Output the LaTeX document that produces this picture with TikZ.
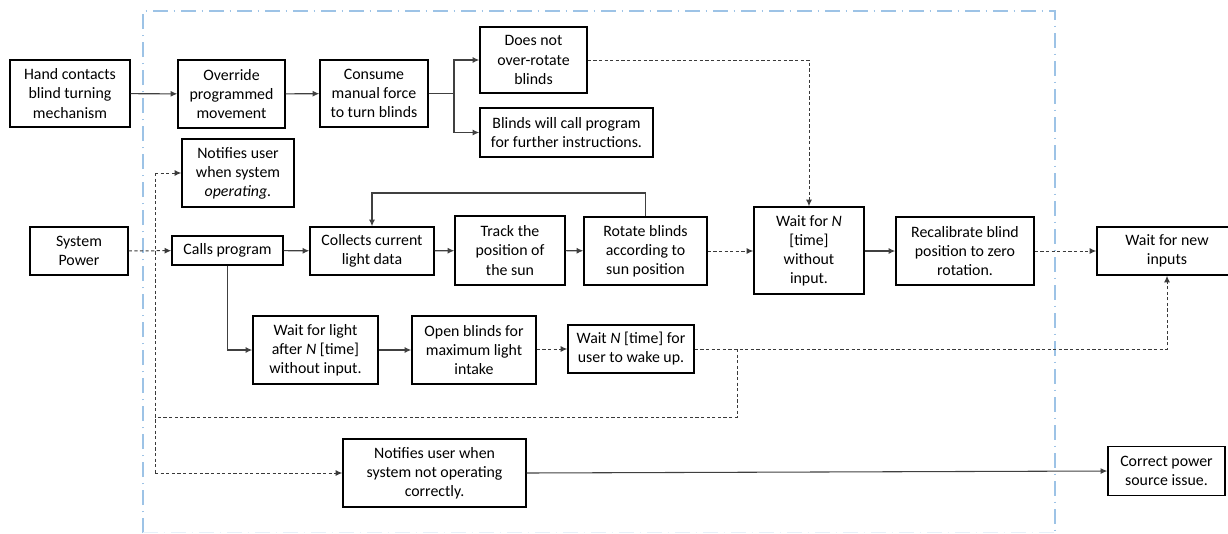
\documentclass[tikz,border=0pt]{standalone}
\usepackage{fontspec}
\setmainfont{Carlito}
\usetikzlibrary{arrows.meta}
\definecolor{bnd}{HTML}{9DC3E6}
\definecolor{ln}{HTML}{404040}
\definecolor{dln}{HTML}{3A3A3A}
\begin{document}
\begin{tikzpicture}[x=0.75pt,y=-0.75pt,
  box/.style={draw=black,line width=1.1pt,align=center,inner sep=0pt,font=\fontsize{11.9}{14.3}\selectfont},
  sz/.style 2 args={minimum width=#1*0.75pt,minimum height=#2*0.75pt},
  conn/.style={draw=ln,line width=0.8pt,-{Latex[length=5pt,width=4.5pt]}},
  plain/.style={draw=ln,line width=0.8pt},
  dsh/.style={draw=dln,line width=0.75pt,dash pattern=on 2.4pt off 1.8pt}]
\useasboundingbox (0,0) rectangle (1228,533);
% boundary
\draw[bnd,line width=1.1pt,dash pattern=on 11pt off 4.5pt on 1pt off 4.5pt] (143,533) -- (143,11) -- (1055,11) -- (1055,533);
\draw[bnd!25,line width=0.5pt,dash pattern=on 11pt off 4.5pt on 1pt off 4.5pt] (143,532.7) -- (1055,532.7);
% boxes
\node[box,sz={120}{67}] (hand) at (70,93.5) {Hand contacts\\blind turning\\mechanism};
\node[box,sz={107}{68}] (override) at (231.5,94) {Override\\programmed\\movement};
\node[box,sz={108}{67}] (consume) at (374,93.5) {Consume\\manual force\\to turn blinds};
\node[box,sz={107}{66}] (norot) at (533.5,60) {Does not\\over-rotate\\blinds};
\node[box,sz={173}{49}] (callback) at (566.5,132.5) {Blinds will call program\\for further instructions.};
\node[box,sz={112}{68}] (notifyop) at (238,173) {Notifies user\\when system\\\textit{operating.}};
\node[box,sz={98}{48}] (power) at (79,251) {System\\Power};
\node[box,sz={111}{29}] (calls) at (227.5,250.5) {Calls program};
\node[box,sz={124}{48}] (collects) at (372,251) {Collects current\\light data};
\node[box,sz={110}{69}] (track) at (510,250.5) {Track the\\position of\\the sun};
\node[box,sz={123}{68}] (rotate) at (645.5,251) {Rotate blinds\\according to\\sun position};
\node[box,sz={110}{87}] (waitN) at (809,250.5) {Wait for \textit{N}\\{[time]}\\without\\input.};
\node[box,sz={138}{68}] (recal) at (965,251) {Recalibrate blind\\position to zero\\rotation.};
\node[box,sz={140}{48}] (newin) at (1167,251) {Wait for new\\inputs};
\node[box,sz={125}{68}] (waitlight) at (315.5,350) {Wait for light\\after \textit{N} [time]\\without input.};
\node[box,sz={124}{68}] (openbl) at (474,350) {Open blinds for\\maximum light\\intake};
\node[box,sz={126}{48}] (waituser) at (631,349) {Wait \textit{N} [time] for\\user to wake up.};
\node[box,sz={183}{68}] (notnot) at (434.5,473) {Notifies user when\\system not operating\\correctly.};
\node[box,sz={117}{49}] (correct) at (1166.5,471) {Correct power\\source issue.};
% helper coordinates
\coordinate (split) at (454,93.5);
\coordinate (loopy) at (0,193);
\coordinate (vtop) at (155,173);
\coordinate (vbot) at (155,473);
\coordinate (vmid) at (155,417);
\coordinate (rj) at (737,349);
\coordinate (rjb) at (737,417);
\coordinate (nx) at (1167,349);
% solid connectors
\draw[conn] (hand) -- (override);
\draw[conn] (override) -- (consume);
\draw[plain] (consume) -- (split);
\draw[conn] (split) |- (norot.west);
\draw[conn] (split) |- (callback.west);
\draw[conn] (calls) -- (collects);
\draw[conn] (collects) -- (track);
\draw[conn] (track) -- (rotate);
\draw[conn] (rotate.north) -- (rotate.north |- loopy) -| (collects.north);
\draw[conn] (waitN.east |- recal.west) -- (recal.west);
\draw[conn] (calls.south) |- (waitlight.west);
\draw[conn] (waitlight) -- (openbl);
\draw[conn] (notnot.east) -- (correct.west);
% dashed connectors
\draw[conn,dsh] (norot.east) -| (waitN.north);
\draw[conn,dsh] (power) -- (calls);
\draw[conn,dsh] (rotate) -- (waitN.west |- rotate.east);
\draw[conn,dsh] (recal) -- (newin.west);
\draw[conn,dsh] (openbl.east |- waituser.west) -- (waituser.west);
\draw[plain,dsh] (vtop) -- (vbot);
\draw[conn,dsh] (vtop) -- (notifyop.west);
\draw[conn,dsh] (vbot) -- (notnot.west);
\draw[conn,dsh] (waituser.east) -- (nx) -- (newin.south);
\draw[plain,dsh] (rj) -- (rjb) -- (vmid);
\end{tikzpicture}
\end{document}
